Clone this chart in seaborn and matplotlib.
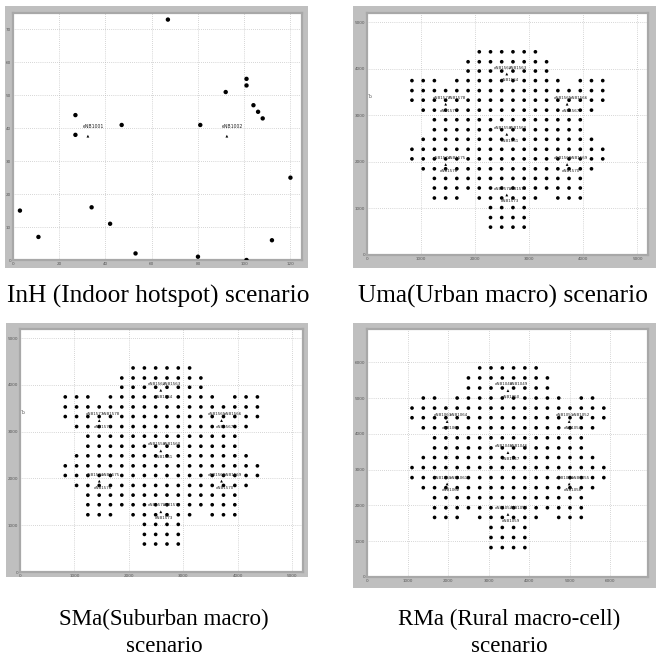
import matplotlib
matplotlib.use("Agg")
import matplotlib.pyplot as plt
import seaborn as sns
import pandas as pd
from matplotlib.patches import Rectangle

# ---------------- data ----------------
# InH (Indoor hotspot)
inh_ue_x = [3, 11, 27, 27, 34, 42, 47, 53, 67, 80, 81, 92, 101, 101, 104, 106, 108, 112, 120, 101]
inh_ue_y = [15, 7, 44, 38, 16, 11, 41, 2, 73, 1, 41, 51, 55, 53, 47, 45, 43, 6, 25, 0]
inh_enb_x = [32.4, 92.5]
inh_enb_y = [37.6, 37.6]
inh_enb_names = ["eNB1001", "eNB1002"]
inh_xticks = [0, 20, 40, 60, 80, 100, 120]
inh_yticks = [0, 10, 20, 30, 40, 50, 60, 70]

# Uma / SMa grid of UE positions (column x values, row y values, columns present per row)
uma_cols = [831, 1039, 1246, 1454, 1661, 1869, 2076, 2284, 2491, 2699,
            2906, 3114, 3321, 3529, 3736, 3944, 4151, 4359]
uma_rows = [4363, 4149, 3950, 3744, 3530, 3324, 3110, 2904, 2690, 2484,
            2270, 2064, 1851, 1644, 1438, 1224, 1018, 804, 598]
uma_row_members = [
    [6, 7, 8, 9, 10, 11],
    [5, 6, 7, 8, 9, 10, 11, 12],
    [5, 6, 7, 8, 9, 10, 11, 12],
    [0, 1, 2, 4, 5, 6, 7, 8, 9, 10, 11, 12, 13, 15, 16, 17],
    [0, 1, 2, 3, 4, 5, 6, 7, 8, 9, 10, 11, 12, 13, 14, 15, 16, 17],
    [0, 1, 2, 3, 4, 5, 6, 7, 8, 9, 10, 11, 12, 13, 14, 15, 16, 17],
    [1, 2, 3, 4, 5, 6, 7, 8, 9, 10, 11, 12, 13, 14, 15, 16],
    [2, 3, 4, 5, 6, 7, 8, 9, 10, 11, 12, 13, 14, 15],
    [2, 3, 4, 5, 6, 7, 8, 9, 10, 11, 12, 13, 14, 15],
    [1, 2, 3, 4, 5, 6, 7, 8, 9, 10, 11, 12, 13, 14, 15, 16],
    [0, 1, 2, 3, 4, 5, 6, 7, 8, 9, 10, 11, 12, 13, 14, 15, 16, 17],
    [0, 1, 2, 3, 4, 5, 6, 7, 8, 9, 10, 11, 12, 13, 14, 15, 16, 17],
    [1, 2, 3, 4, 5, 6, 7, 8, 9, 10, 11, 12, 13, 14, 15, 16],
    [2, 3, 4, 5, 6, 7, 8, 9, 10, 11, 12, 13, 14, 15],
    [2, 3, 4, 5, 6, 7, 8, 9, 10, 11, 12, 13, 14, 15],
    [2, 3, 4, 6, 7, 8, 9, 10, 11, 13, 14, 15],
    [7, 8, 9, 10],
    [7, 8, 9, 10],
    [7, 8, 9, 10],
]
uma_enb_x = [2585, 1455, 3700, 2585, 1455, 3700, 2585]
uma_enb_y = [3886, 3238, 3238, 2591, 1943, 1943, 1288]
uma_enb_names = [("eNB1562", "eNB1563", "eNB1564"), ("eNB1577", "eNB1578", "eNB1579"),
                 ("eNB1565", "eNB1566", "eNB1567"), ("eNB1559", "eNB1560", "eNB1561"),
                 ("eNB1574", "eNB1575", "eNB1576"), ("eNB1568", "eNB1569", "eNB1570"),
                 ("eNB1571", "eNB1572", "eNB1573")]
uma_ticks = [0, 1000, 2000, 3000, 4000, 5000]

# SMa uses the same layout
sma_cols = uma_cols
sma_rows = uma_rows
sma_row_members = uma_row_members
sma_enb_x = uma_enb_x
sma_enb_y = uma_enb_y
sma_enb_names = uma_enb_names
sma_ticks = uma_ticks

# RMa (Rural macro-cell)
rma_cols = [1110, 1388, 1666, 1945, 2223, 2501, 2779, 3057, 3336, 3614,
            3892, 4170, 4448, 4727, 5005, 5283, 5561, 5839]
rma_rows = [5841, 5561, 5280, 5000, 4720, 4449, 4168, 3888, 3607, 3336,
            3056, 2776, 2495, 2215, 1935, 1664, 1383, 1103, 822]
rma_row_members = [list(m) for m in uma_row_members]
rma_row_members[3] = [1, 2, 4, 5, 6, 7, 8, 9, 10, 11, 12, 13, 15, 16]
rma_enb_x = [3475, 1975, 4984, 3475, 1975, 4984, 3475]
rma_enb_y = [5206, 4343, 4343, 3475, 2598, 2598, 1748]
rma_enb_names = [("eNB1048", "eNB1049", "eNB1050"), ("eNB1063", "eNB1064", "eNB1065"),
                 ("eNB1051", "eNB1052", "eNB1053"), ("eNB1045", "eNB1046", "eNB1047"),
                 ("eNB1060", "eNB1061", "eNB1062"), ("eNB1054", "eNB1055", "eNB1056"),
                 ("eNB1057", "eNB1058", "eNB1059")]
rma_ticks = [0, 1000, 2000, 3000, 4000, 5000, 6000]

captions = [["InH (Indoor hotspot) scenario"], ["Uma(Urban macro) scenario"],
            ["SMa(Suburban macro)", "scenario"], ["RMa (Rural macro-cell)", "scenario"]]

# ---------------- figure ----------------
W, H = 656, 658
sns.set_style("white")
fig = plt.figure(figsize=(W / 100, H / 100), dpi=100)
fig.patch.set_facecolor("white")


def frame(x0, y0, x1, y1):
    fig.patches.append(Rectangle((x0 / W, 1 - y1 / H), (x1 - x0) / W, (y1 - y0) / H,
                                 transform=fig.transFigure, facecolor="#bfbfbf",
                                 edgecolor="none", zorder=-10))


def axes_px(x0, y0, x1, y1):
    return fig.add_axes([x0 / W, 1 - y1 / H, (x1 - x0) / W, (y1 - y0) / H])


def style_axes(ax, xlim, ylim, xticks, yticks):
    ax.set_xlim(*xlim)
    ax.set_ylim(*ylim)
    ax.set_xticks(xticks)
    ax.set_yticks(yticks)
    ax.set_xticklabels([str(t) for t in xticks])
    ax.set_yticklabels([str(t) for t in yticks])
    ax.set_xlabel("")
    ax.set_ylabel("")
    ax.grid(True, linestyle=(0, (1, 2)), color="#b0b0b0", linewidth=0.5)
    ax.set_axisbelow(True)
    ax.tick_params(direction="in", length=2.5, width=0.5, labelsize=3,
                   colors="#555555", pad=1.5)
    for s in ax.spines.values():
        s.set_color("#a8a8a8")
        s.set_linewidth(1.6)


def grid_df(cols, rows, members):
    xs, ys = [], []
    for r, mem in enumerate(members):
        for c in mem:
            xs.append(cols[c])
            ys.append(rows[r])
    return pd.DataFrame({"x": xs, "y": ys})


def draw_sites(ax, ex, ey, names):
    df = pd.DataFrame({"x": ex, "y": ey})
    sns.scatterplot(data=df, x="x", y="y", ax=ax, marker="^", s=4, color="black",
                    edgecolor="none", legend=False, zorder=3)
    for x, y, (a, b, c) in zip(ex, ey, names):
        kw = dict(xy=(x, y), textcoords="offset points", fontsize=2.9,
                  color="#222222", va="center", ha="left", zorder=4)
        ax.annotate(a, xytext=(-9.6, 4.6), **kw)
        ax.annotate(b, xytext=(1.6, 4.6), **kw)
        ax.annotate(c, xytext=(-4.2, -4.6), **kw)


# Frames
frame(5, 6, 308, 268)
frame(353, 6, 656, 268)
frame(6, 323, 308, 577)
frame(353, 323, 656, 588)

DOT = 7

# InH
ax1 = axes_px(13, 13, 302, 260)
inh_df = pd.DataFrame({"x": inh_ue_x, "y": inh_ue_y})
sns.scatterplot(data=inh_df, x="x", y="y", ax=ax1, color="black", s=10,
                edgecolor="none", legend=False, zorder=3)
sns.scatterplot(data=pd.DataFrame({"x": inh_enb_x, "y": inh_enb_y}), x="x", y="y",
                ax=ax1, marker="^", s=4, color="black", edgecolor="none", legend=False, zorder=3)
for x, y, n in zip(inh_enb_x, inh_enb_y, inh_enb_names):
    ax1.annotate(n, xy=(x, y), xytext=(-3.4, 7.0), textcoords="offset points",
                 fontsize=3.3, color="#222222", va="center", ha="left")
style_axes(ax1, (0, 125), (0, 75), inh_xticks, inh_yticks)

# Uma
ax2 = axes_px(367, 13, 648, 255)
sns.scatterplot(data=grid_df(uma_cols, uma_rows, uma_row_members), x="x", y="y", ax=ax2,
                color="black", s=DOT, edgecolor="none", legend=False, zorder=2)
draw_sites(ax2, uma_enb_x, uma_enb_y, uma_enb_names)
ax2.text(60, 3400, "Ъ", fontsize=3.5, color="#666666", ha="center", va="center")
style_axes(ax2, (0, 5196), (0, 5196), uma_ticks, uma_ticks)

# SMa
ax3 = axes_px(20, 329, 303, 572)
sns.scatterplot(data=grid_df(sma_cols, sma_rows, sma_row_members), x="x", y="y", ax=ax3,
                color="black", s=DOT, edgecolor="none", legend=False, zorder=2)
draw_sites(ax3, sma_enb_x, sma_enb_y, sma_enb_names)
ax3.text(60, 3400, "Ъ", fontsize=3.5, color="#666666", ha="center", va="center")
style_axes(ax3, (0, 5196), (0, 5196), sma_ticks, sma_ticks)

# RMa
ax4 = axes_px(367, 329, 648, 577)
sns.scatterplot(data=grid_df(rma_cols, rma_rows, rma_row_members), x="x", y="y", ax=ax4,
                color="black", s=DOT, edgecolor="none", legend=False, zorder=2)
draw_sites(ax4, rma_enb_x, rma_enb_y, rma_enb_names)
style_axes(ax4, (0, 6928), (0, 6928), rma_ticks, rma_ticks)

# Captions
cap_kw = dict(fontfamily="Liberation Serif", color="black", ha="center", va="center")
fig.text(158 / W, 1 - 296 / H, captions[0][0], fontsize=18.3, **cap_kw)
fig.text(358 / W, 1 - 296 / H, captions[1][0], fontsize=18.3,
         fontfamily="Liberation Serif", color="black", ha="left", va="center")
fig.text(164 / W, 1 - 619 / H, captions[2][0], fontsize=16.6, **cap_kw)
fig.text(164 / W, 1 - 646 / H, captions[2][1], fontsize=16.6, **cap_kw)
fig.text(509 / W, 1 - 619 / H, captions[3][0], fontsize=16.6, **cap_kw)
fig.text(509 / W, 1 - 646 / H, captions[3][1], fontsize=16.6, **cap_kw)

fig.savefig("out.png", dpi=100, facecolor="white")
